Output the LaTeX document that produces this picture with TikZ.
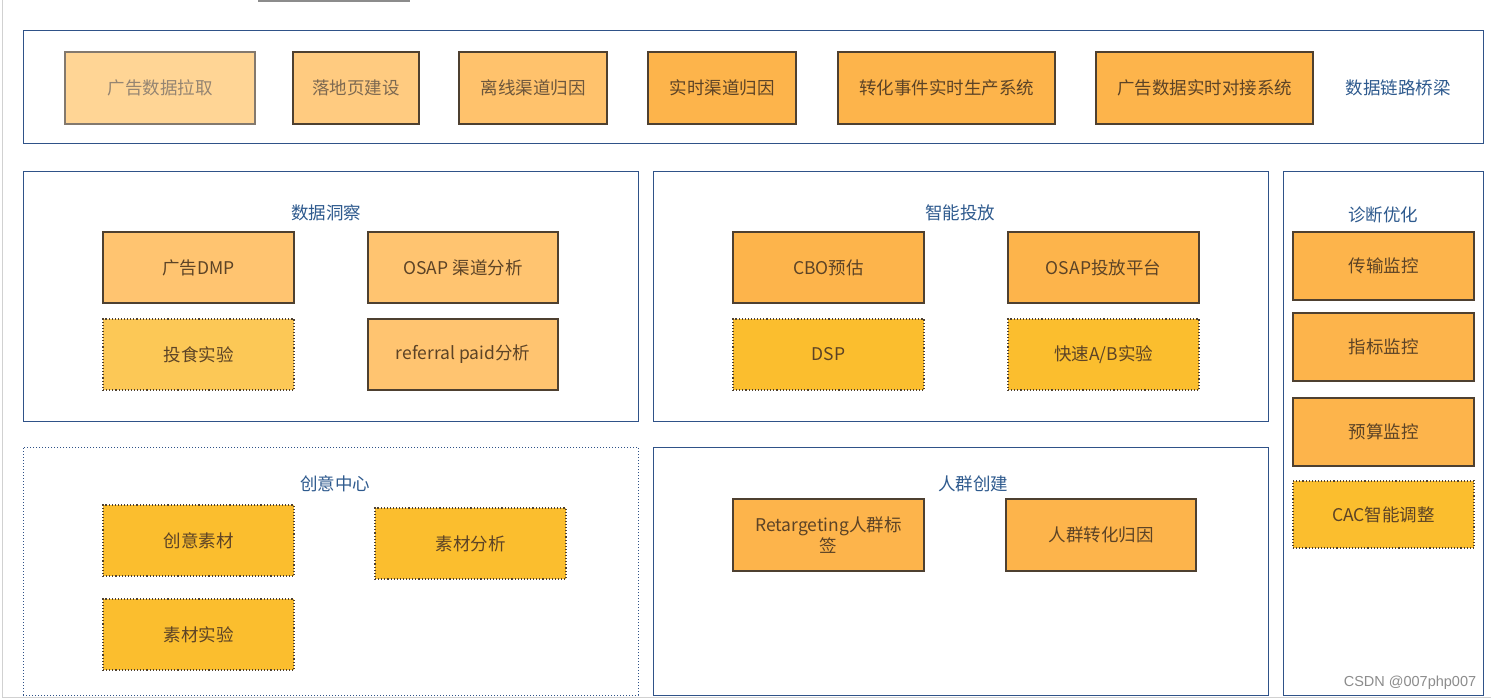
\documentclass[tikz,border=0pt]{standalone}
\usepackage{fontspec}
\setmainfont{Noto Sans CJK SC}
\newfontfamily\wmfont{Liberation Sans}
\definecolor{framec}{HTML}{2F5288}
\definecolor{titlec}{HTML}{2E5A8E}
\definecolor{edgec}{HTML}{4E4030}
\definecolor{txtc}{HTML}{5C4326}
\definecolor{fTa}{HTML}{FFD595}
\definecolor{fTb}{HTML}{FFCB80}
\definecolor{fTc}{HTML}{FFC26C}
\definecolor{fOr}{HTML}{FDB44B}
\definecolor{fLi}{HTML}{FFC470}
\definecolor{fYe}{HTML}{FCC856}
\definecolor{fGo}{HTML}{FBBE2E}
\tikzset{
  frame/.style={draw=framec, line width=1pt, rectangle, inner sep=0pt},
  dframe/.style={draw=framec, line width=1pt, dotted, rectangle, inner sep=0pt},
  ttl/.style={text=titlec, font=\fontsize{17.5}{20}\selectfont, inner sep=0pt},
  box/.style={draw=edgec, line width=1.1pt, rectangle, inner sep=0pt, align=center,
              text=txtc, font=\fontsize{17.5}{22}\selectfont},
  dbox/.style={box, dotted, line width=1.1pt}
}
\begin{document}
\begin{tikzpicture}[x=1pt,y=-1pt]
\useasboundingbox (0,0) rectangle (1491,700);
\fill[white] (0,0) rectangle (1491,700);
% screenshot edges
\fill[black!45] (258,0) rectangle (410,2);
\draw[black!18, line width=1pt] (2,0) -- (2,697) -- (1491,697);

% frames
\node[frame, minimum width=1460pt, minimum height=113pt] (fTop) at (753,87.5) {};
\node[frame, minimum width=615pt, minimum height=249pt] (fIns) at (330.5,296.5) {};
\node[frame, minimum width=615pt, minimum height=249pt] (fPut) at (960.5,296.5) {};
\node[frame, minimum width=200pt, minimum height=523pt] (fDia) at (1383,433.5) {};
\node[dframe, minimum width=615pt, minimum height=248pt] (fCre) at (330.5,571) {};
\node[frame, minimum width=615pt, minimum height=248pt] (fCrd) at (960.5,571) {};

% top strip
\node[box, fill=fTa, draw=edgec!70, text=txtc!65, minimum width=190pt, minimum height=72pt] (t1) at (160,88) {广告数据拉取};
\node[box, fill=fTb, text=txtc!80, minimum width=126pt, minimum height=72pt] (t2) at (356,88) {落地页建设};
\node[box, fill=fTc, text=txtc!90, minimum width=148pt, minimum height=72pt] (t3) at (533,88) {离线渠道归因};
\node[box, fill=fOr, minimum width=148pt, minimum height=72pt] (t4) at (722,88) {实时渠道归因};
\node[box, fill=fOr, minimum width=217pt, minimum height=72pt] (t5) at (946.5,88) {转化事件实时生产系统};
\node[box, fill=fOr, minimum width=217pt, minimum height=72pt] (t6) at (1204.5,88) {广告数据实时对接系统};
\node[ttl] (tTop) at (1398,88) {数据链路桥梁};

% data insight
\node[ttl] (tIns) at (326,213) {数据洞察};
\node[box, fill=fLi, minimum width=191pt, minimum height=71pt] (i1) at (198.5,267.5) {广告DMP};
\node[box, fill=fLi, minimum width=190pt, minimum height=71pt] (i2) at (463,267.5) {OSAP 渠道分析};
\node[dbox, fill=fYe, minimum width=191pt, minimum height=71pt] (i3) at (198.5,354.5) {投食实验};
\node[box, fill=fLi, minimum width=190pt, minimum height=71pt] (i4) at (463,354.5) {referral paid分析};

% smart delivery
\node[ttl] (tPut) at (960,213) {智能投放};
\node[box, fill=fOr, minimum width=191pt, minimum height=71pt] (p1) at (828.5,267.5) {CBO预估};
\node[box, fill=fOr, minimum width=191pt, minimum height=71pt] (p2) at (1103.5,267.5) {OSAP投放平台};
\node[dbox, fill=fGo, minimum width=191pt, minimum height=71pt] (p3) at (828.5,354.5) {DSP};
\node[dbox, fill=fGo, minimum width=191pt, minimum height=71pt] (p4) at (1103.5,354.5) {快速A/B实验};

% diagnose
\node[ttl] (tDia) at (1383,215) {诊断优化};
\node[box, fill=fOr, minimum width=181pt, minimum height=68pt] (d1) at (1383.5,266) {传输监控};
\node[box, fill=fOr, minimum width=181pt, minimum height=68pt] (d2) at (1383.5,347) {指标监控};
\node[box, fill=fOr, minimum width=181pt, minimum height=68pt] (d3) at (1383.5,432) {预算监控};
\node[dbox, fill=fGo, minimum width=181pt, minimum height=67pt] (d4) at (1383.5,514.5) {CAC智能调整};

% creative center
\node[ttl] (tCre) at (335,484) {创意中心};
\node[dbox, fill=fGo, minimum width=191pt, minimum height=71pt] (c1) at (198.5,540.5) {创意素材};
\node[dbox, fill=fGo, minimum width=191pt, minimum height=71pt] (c2) at (470.5,543.5) {素材分析};
\node[dbox, fill=fGo, minimum width=191pt, minimum height=71pt] (c3) at (198.5,634.5) {素材实验};

% crowd
\node[ttl] (tCrd) at (973,484) {人群创建};
\node[box, fill=fOr, minimum width=191pt, minimum height=72pt, font=\fontsize{17.5}{21}\selectfont] (r1) at (828.5,535) {Retargeting人群标\\签};
\node[box, fill=fOr, minimum width=190pt, minimum height=72pt] (r2) at (1101,535) {人群转化归因};

% watermark
\node[text=black!45, font=\wmfont\fontsize{14.5}{16}\selectfont, inner sep=0pt] (wm) at (1410,683) {CSDN @007php007};
\end{tikzpicture}
\end{document}
